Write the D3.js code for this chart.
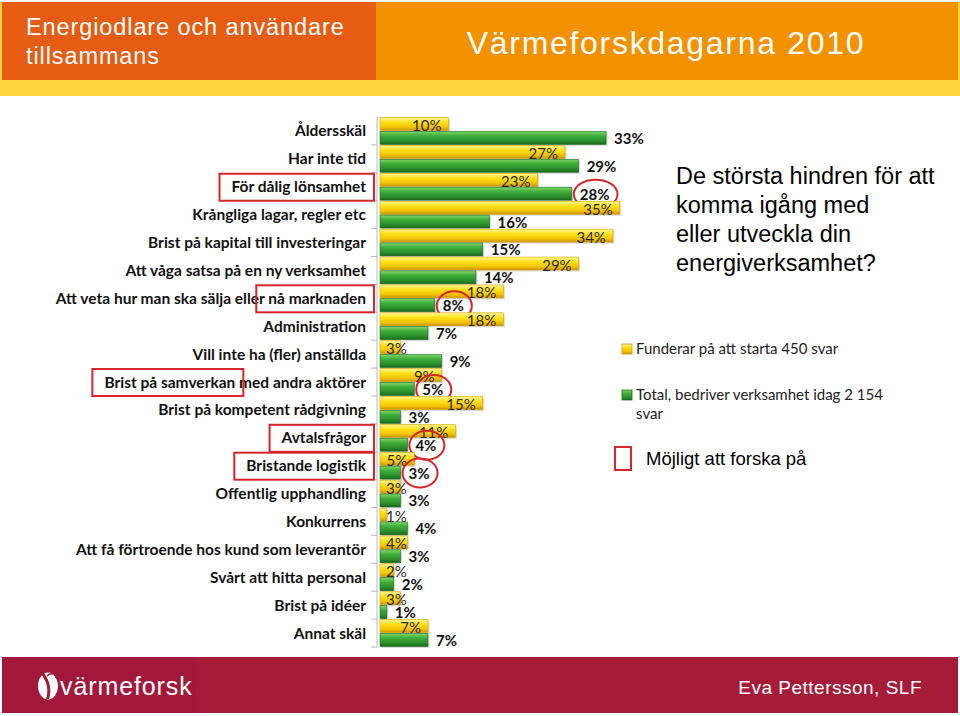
<!DOCTYPE html>
<html>
<head>
<meta charset="utf-8">
<script src="https://cdn.jsdelivr.net/npm/d3@7"></script>
<style>
  body { margin: 0; background: #fff; }
  svg { display: block; }
</style>
</head>
<body>
<script>
// categories, top to bottom
const categories = [
  'Åldersskäl',
  'Har inte tid',
  'För dålig lönsamhet',
  'Krångliga lagar, regler etc',
  'Brist på kapital till investeringar',
  'Att våga satsa på en ny verksamhet',
  'Att veta hur man ska sälja eller nå marknaden',
  'Administration',
  'Vill inte ha (fler) anställda',
  'Brist på samverkan med andra aktörer',
  'Brist på kompetent rådgivning',
  'Avtalsfrågor',
  'Bristande logistik',
  'Offentlig upphandling',
  'Konkurrens',
  'Att få förtroende hos kund som leverantör',
  'Svårt att hitta personal',
  'Brist på idéer',
  'Annat skäl'
];
// Funderar på att starta (yellow)
const planning = [10, 27, 23, 35, 34, 29, 18, 18, 3, 9, 15, 11, 5, 3, 1, 4, 2, 3, 7];
// Total, bedriver verksamhet idag (green)
const active = [33, 29, 28, 16, 15, 14, 8, 7, 9, 5, 3, 4, 3, 3, 4, 3, 2, 1, 7];

const seriesNames = ['Funderar på att starta 450 svar', 'Total, bedriver verksamhet idag 2 154 svar'];
// research opportunities: label part boxed, green value circled
const boxedLabels = [
  { cat: 'För dålig lönsamhet', part: 'För dålig lönsamhet' },
  { cat: 'Att veta hur man ska sälja eller nå marknaden', part: 'nå marknaden' },
  { cat: 'Brist på samverkan med andra aktörer', part: 'Brist på samverkan' },
  { cat: 'Avtalsfrågor', part: 'Avtalsfrågor' },
  { cat: 'Bristande logistik', part: 'Bristande logistik' }
];
const circledValues = ['För dålig lönsamhet', 'Att veta hur man ska sälja eller nå marknaden',
  'Brist på samverkan med andra aktörer', 'Avtalsfrågor', 'Bristande logistik'];

const questionLines = ['De största hindren för att', 'komma igång med', 'eller utveckla din', 'energiverksamhet?'];

const W = 960, H = 716;
const labelFont = 'Lato, "Open Sans", sans-serif';
const arial = '"Liberation Sans", Arial, sans-serif';

const svg = d3.select('body').append('svg')
  .attr('width', W).attr('height', H);

const defs = svg.append('defs');
const grad = (id, stops) => {
  const g = defs.append('linearGradient').attr('id', id)
    .attr('x1', 0).attr('y1', 0).attr('x2', 0).attr('y2', 1);
  stops.forEach(s => g.append('stop').attr('offset', s[0]).attr('stop-color', s[1]));
};
grad('gYellow', [[0, '#fff59a'], [0.35, '#ffe21a'], [0.75, '#f2c200'], [1, '#c99200']]);
grad('gGreen', [[0, '#7fd46a'], [0.35, '#3fae3a'], [0.75, '#2a8c2a'], [1, '#1b661c']]);

// header
svg.append('rect').attr('x', 0).attr('y', 0).attr('width', W).attr('height', 96).attr('fill', '#ffd33c');
svg.append('rect').attr('x', 2).attr('y', 2).attr('width', 374).attr('height', 78).attr('fill', '#e65c12');
svg.append('rect').attr('x', 376).attr('y', 2).attr('width', W - 378).attr('height', 78).attr('fill', '#f29200');
svg.append('rect').attr('x', 0).attr('y', 0).attr('width', W).attr('height', 2).attr('fill', '#fff');

svg.append('text').attr('x', 26).attr('y', 35)
  .attr('fill', '#fff').style('font', `23.5px ${arial}`).style('letter-spacing', '0.9px')
  .text('Energiodlare och användare');
svg.append('text').attr('x', 26).attr('y', 64)
  .attr('fill', '#fff').style('font', `23.5px ${arial}`).style('letter-spacing', '0.9px')
  .text('tillsammans');
svg.append('text').attr('x', 666).attr('y', 54).attr('text-anchor', 'middle')
  .attr('fill', '#fff').style('font', `32px ${arial}`).style('letter-spacing', '1.7px')
  .text('Värmeforskdagarna 2010');

// footer
svg.append('rect').attr('x', 2).attr('y', 657).attr('width', W - 4).attr('height', 56).attr('fill', '#a61b37');
svg.append('rect').attr('x', 2).attr('y', 657).attr('width', 194).attr('height', 56).attr('fill', '#a3183a');
const logo = svg.append('g').attr('transform', 'translate(48,686)');
logo.append('ellipse').attr('rx', 10).attr('ry', 13.5).attr('fill', '#fff');
logo.append('path').attr('d', 'M-7,-12 C-1,-4 1,4 -2,13 L1,13 C4,4 2,-5 -4,-13 Z').attr('fill', '#a61b37');
logo.append('path').attr('d', 'M-1,-10 C3,-14 9,-12 8,-8').attr('fill', 'none').attr('stroke', '#a61b37').attr('stroke-width', 1.5);
svg.append('text').attr('x', 60).attr('y', 695)
  .attr('fill', '#fff').style('font', `25px ${arial}`).style('letter-spacing', '0.9px')
  .text('värmeforsk');
svg.append('text').attr('x', 922).attr('y', 694).attr('text-anchor', 'end')
  .attr('fill', '#fff').style('font', `19px ${arial}`).style('letter-spacing', '0.5px')
  .text('Eva Pettersson, SLF');

// chart
const x0 = 380;
const x = d3.scaleLinear().domain([0, 35]).range([x0, x0 + 35 * 6.85]);
const y = d3.scaleBand().domain(categories).range([117, 647]);
const sub = d3.scaleBand().domain(['p', 'a']).range([0, y.bandwidth()]).paddingInner(0.06).paddingOuter(0.04);

const rows = categories.map((c, i) => ({ cat: c, p: planning[i], a: active[i] }));

// axis
const axis = svg.append('g');
axis.append('line').attr('x1', 377).attr('x2', 377).attr('y1', y.range()[0]).attr('y2', y.range()[1])
  .attr('stroke', '#b8b8c8').attr('stroke-width', 1);
axis.selectAll('line.tick').data(categories)
  .enter().append('line').attr('class', 'tick')
  .attr('x1', 371).attr('x2', 377)
  .attr('y1', d => y(d) + y.bandwidth())
  .attr('y2', d => y(d) + y.bandwidth())
  .attr('stroke', '#b8b8c8');

const catLabels = svg.append('g').selectAll('text').data(rows).enter().append('text')
  .attr('x', 366).attr('y', d => y(d.cat) + y.bandwidth() / 2 + 5.5)
  .attr('text-anchor', 'end').attr('fill', '#111')
  .style('font', `bold 15.5px ${labelFont}`)
  .text(d => d.cat);

const row = svg.append('g').selectAll('g').data(rows).enter().append('g')
  .attr('transform', d => `translate(0,${y(d.cat)})`);

// shadows + bars
['p', 'a'].forEach(k => {
  row.append('rect')
    .attr('x', x0 + 1.5).attr('y', sub(k) + 1.5)
    .attr('width', d => Math.max(0, x(d[k]) - x0)).attr('height', sub.bandwidth())
    .attr('fill', '#000').attr('opacity', 0.15);
  row.append('rect')
    .attr('x', x0).attr('y', sub(k))
    .attr('width', d => Math.max(0, x(d[k]) - x0)).attr('height', sub.bandwidth())
    .attr('fill', k === 'p' ? 'url(#gYellow)' : 'url(#gGreen)')
    .attr('stroke', k === 'p' ? '#d8a400' : '#1f6e20').attr('stroke-width', 0.6);
});

// yellow labels: inside end
row.append('text')
  .attr('y', sub('p') + sub.bandwidth() / 2 + 7)
  .attr('text-anchor', 'end').attr('fill', '#2a2a2a')
  .style('font', `15px ${labelFont}`)
  .text(d => d.p + '%')
  .each(function (d) {
    const w = this.getComputedTextLength();
    d3.select(this).attr('x', Math.max(x(d.p) - 7, x0 + 6 + w));
  });

// green labels: outside end
row.append('text')
  .attr('class', 'glabel')
  .attr('x', d => x(d.a) + 8)
  .attr('y', sub('a') + sub.bandwidth() / 2 + 6)
  .attr('fill', '#111')
  .style('font', `bold 15px ${labelFont}`)
  .text(d => d.a + '%')
  .each(function (d) { d.gw = this.getComputedTextLength(); });

// red annotations
const red = '#d7262b';
row.filter(d => circledValues.includes(d.cat)).append('ellipse')
  .attr('cx', d => x(d.a) + 8 + d.gw / 2 + 1)
  .attr('cy', sub('a') + sub.bandwidth() / 2 + 0.5)
  .attr('rx', d => d.gw / 2 + 7).attr('ry', 14.5)
  .attr('fill', 'none').attr('stroke', red).attr('stroke-width', 2);

catLabels.each(function (d) {
  const b = boxedLabels.find(e => e.cat === d.cat);
  if (!b) return;
  const full = this.getComputedTextLength();
  const start = d.cat.indexOf(b.part);
  const before = start > 0 ? this.getSubStringLength(0, start) : 0;
  const partW = this.getSubStringLength(start, b.part.length);
  const left = 366 - full + before;
  const yc = y(d.cat) + y.bandwidth() / 2;
  svg.append('rect')
    .attr('x', left - 12).attr('y', yc - 13)
    .attr('width', partW + 12 + 8).attr('height', 27)
    .attr('fill', 'none').attr('stroke', red).attr('stroke-width', 2);
});

// question text
svg.append('g').selectAll('text').data(questionLines).enter().append('text')
  .attr('x', 676).attr('y', (d, i) => 184 + i * 29)
  .attr('fill', '#000').style('font', `23.5px ${arial}`)
  .text(d => d);

// legend
const leg = svg.append('g');
leg.append('rect').attr('x', 622).attr('y', 344).attr('width', 10).attr('height', 10)
  .attr('fill', 'url(#gYellow)').attr('stroke', '#c99a00').attr('stroke-width', 0.8);
leg.append('text').attr('x', 636).attr('y', 354).attr('fill', '#222')
  .style('font', `15px ${labelFont}`).text(seriesNames[0]);
leg.append('rect').attr('x', 622).attr('y', 390).attr('width', 10).attr('height', 10)
  .attr('fill', 'url(#gGreen)').attr('stroke', '#1f6e20').attr('stroke-width', 0.8);
const parts = seriesNames[1].split(' 154 ');
leg.append('text').attr('x', 636).attr('y', 400).attr('fill', '#222')
  .style('font', `15px ${labelFont}`).text(parts[0] + ' 154');
leg.append('text').attr('x', 636).attr('y', 419).attr('fill', '#222')
  .style('font', `15px ${labelFont}`).text(parts[1]);
leg.append('rect').attr('x', 615).attr('y', 447).attr('width', 16).attr('height', 23)
  .attr('fill', 'none').attr('stroke', red).attr('stroke-width', 2);
leg.append('text').attr('x', 646).attr('y', 465).attr('fill', '#000')
  .style('font', `18.5px ${arial}`).text('Möjligt att forska på');
</script>
</body>
</html>
